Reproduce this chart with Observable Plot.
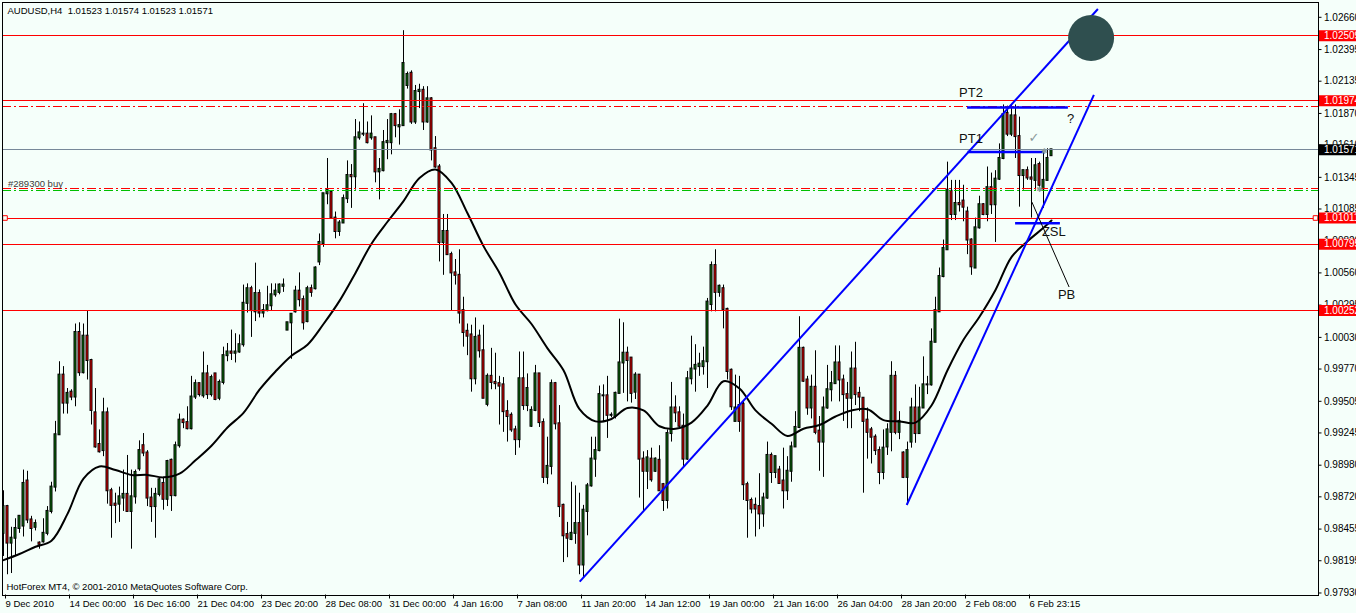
<!DOCTYPE html>
<html><head><meta charset="utf-8">
<script src="https://cdn.jsdelivr.net/npm/d3@7"></script>
<script src="https://cdn.jsdelivr.net/npm/@observablehq/plot@0.6"></script>
<style>
html,body{margin:0;padding:0;background:#F5FFFA;}
#chart svg{display:block}
</style></head><body><div id="chart"></div>
<script>
// ---- chart values (prices in pips, 1 pip = 0.0001) ----
const PIP = 1e-4;
const symbolName = "AUDUSD,H4";
const brokerCaption = "HotForex MT4, \u00A9 2001-2010 MetaQuotes Software Corp.";
const orderLabel = "#289300 buy";

const xTickBars = [0,16,32,48,64,80,96,112,128,144,160,176,192,208,224,240,256];
const xTickLabels = ["9 Dec 2010","14 Dec 00:00","16 Dec 16:00","21 Dec 04:00","23 Dec 20:00","28 Dec 08:00","31 Dec 00:00","4 Jan 16:00","7 Jan 08:00","11 Jan 20:00","14 Jan 12:00","19 Jan 00:00","21 Jan 16:00","26 Jan 04:00","28 Jan 20:00","2 Feb 08:00","6 Feb 23:15"];
const yTickValues = [1.02660,1.02395,1.02135,1.01870,1.01610,1.01345,1.01085,1.00820,1.00560,1.00295,1.00030,0.99770,0.99505,0.99245,0.98980,0.98720,0.98455,0.98195,0.97930];

const openPips = [
9842,9864,9834,9838,9846,9848,9885,9853,9847,9834,
9835,9842,9860,9880,9923,9972,9949,9958,9954,10007,
9974,10004,9984,9941,9915,9910,9941,9877,9866,9866,
9871,9874,9860,9872,9895,9914,9908,9871,9864,9874,
9883,9870,9902,9873,9914,9935,9933,9928,9954,9965,
9955,9973,9956,9973,9953,9966,9988,9991,9990,9991,
9997,10031,10043,10024,10039,10023,10025,10029,10038,10040,
10045,10009,10015,10024,10041,10034,10016,10043,10043,10065,
10080,10121,10122,10101,10090,10097,10117,10136,10135,10167,
10170,10170,10167,10167,10139,10140,10163,10163,10186,10176,
10177,10210,10220,10180,10205,10206,10180,10199,10158,10143,
10081,10090,10071,10056,10054,10025,10008,10005,9969,10004,
9992,9948,9971,9966,9965,9964,9942,9939,9927,9919,
9969,9947,9930,9943,9973,9933,9888,9897,9965,9932,
9865,9841,9837,9842,9850,9816,9860,9881,9903,9910,
9955,9955,9939,9938,9957,9982,9990,9986,9958,9972,
9903,9893,9903,9893,9902,9882,9869,9924,9945,9941,
9930,9903,9969,9977,9979,9979,9983,10030,10062,10040,
10043,10026,9976,9934,9947,9948,9882,9869,9865,9864,
9858,9871,9906,9892,9894,9885,9877,9893,9913,9929,
9994,9968,9945,9962,9926,9917,9945,9960,9965,9982,
9968,9956,9953,9977,9957,9953,9935,9927,9921,9910,
9892,9913,9925,9971,9925,9908,9888,9917,9945,9924,
9945,9964,9964,9999,10024,10053,10075,10123,10104,10113,
10115,10106,10083,10060,10093,10112,10104,10126,10112,10133,
10150,10187,10170,10185,10168,10136,10140,10134,10132,10145,
10125,10132,10152.3];
const highPips = [
9877,9865,9847,9854,9856,9894,9893,9856,9853,9835,
9854,9864,9884,9934,9983,9979,9961,9960,10014,10015,
10014,10025,9985,9961,9927,9953,9945,9879,9875,9880,
9894,9906,9894,9894,9918,9924,9910,9879,9879,9887,
9888,9902,9903,9917,9940,9936,9946,9971,9968,9965,
9991,9980,9972,9973,9968,9995,9998,10009,10006,10005,
10046,10047,10045,10064,10042,10030,10045,10047,10047,10047,
10051,10015,10022,10045,10056,10037,10045,10046,10061,10088,
10121,10150,10123,10106,10099,10120,10148,10145,10182,10180,
10195,10180,10185,10167,10150,10173,10182,10187,10187,10190,
10255,10221,10222,10210,10211,10209,10209,10200,10168,10145,
10104,10104,10073,10067,10075,10036,10014,10013,10019,10009,
10013,9973,9994,9990,9971,9970,9951,9941,9930,9991,
9991,9973,9946,9980,9973,9936,9921,9968,9966,9947,
9866,9851,9884,9881,9875,9865,9883,9921,9921,9963,
9964,9971,9941,9958,10018,10015,9995,9986,9974,9972,
9909,9910,9912,9904,9914,9883,9927,9966,9955,9946,
9940,9975,10004,9997,9990,9995,10035,10065,10075,10046,
10046,10027,9977,9972,9971,9950,9884,9871,9871,9891,
9875,9917,9908,9905,9897,9912,9905,9917,9942,10020,
9995,9971,9972,9992,9938,9954,9980,9975,9996,9996,
9972,9966,9991,9999,9962,9953,9945,9929,9923,9913,
9927,9932,9983,9975,9942,9909,9917,9953,9964,9962,
9987,9971,10010,10036,10060,10083,10147,10132,10132,10132,
10128,10110,10084,10101,10119,10113,10143,10138,10140,10162,
10194,10193,10194,10194,10184,10140,10143,10150,10150,10147,
10156,10158,10157.4];
const lowPips = [
9823,9808,9809,9823,9842,9839,9850,9835,9844,9829,
9834,9840,9858,9876,9923,9940,9940,9951,9946,9971,
9973,9968,9931,9912,9908,9905,9866,9838,9850,9851,
9860,9860,9829,9866,9893,9905,9864,9851,9838,9872,
9861,9864,9860,9872,9912,9928,9927,9927,9952,9954,
9953,9952,9954,9951,9951,9964,9983,9984,9982,9990,
9995,10023,10003,10016,10019,10019,10024,10025,10036,10038,
10040,10009,9985,10023,10028,10009,10015,10036,10042,10062,
10077,10112,10100,10084,10086,10097,10113,10109,10124,10165,
10168,10162,10165,10130,10116,10139,10149,10153,10167,10161,
10177,10207,10178,10178,10191,10173,10179,10148,10142,10065,
10054,10071,10025,10046,10014,9995,9988,9958,9964,9986,
9953,9946,9960,9960,9931,9925,9917,9925,9906,9912,
9943,9942,9929,9942,9929,9883,9882,9890,9927,9855,
9818,9822,9836,9833,9808,9805,9840,9880,9888,9909,
9933,9920,9937,9936,9957,9957,9950,9949,9952,9871,
9860,9878,9884,9892,9877,9860,9862,9917,9933,9928,
9897,9902,9964,9958,9971,9972,9961,10024,10024,10036,
10010,9968,9943,9934,9925,9869,9838,9858,9839,9845,
9847,9870,9883,9887,9883,9862,9869,9884,9913,9928,
9966,9939,9936,9923,9893,9888,9944,9950,9965,9950,
9934,9928,9928,9947,9942,9875,9903,9899,9906,9882,
9886,9906,9909,9923,9919,9887,9865,9912,9916,9924,
9945,9956,9963,9999,10024,10052,10075,10099,10099,10106,
10098,10071,10054,10060,10092,10103,10098,10104,10081,10132,
10149,10168,10168,10150,10110,10124,10132,10101,10124,10124,
10109,10132,10152.3];
const closePips = [
9864,9834,9838,9846,9856,9883,9853,9846,9850,9833,
9842,9860,9880,9923,9972,9949,9957,9954,10007,9974,
10004,9984,9943,9913,9909,9941,9877,9865,9865,9872,
9874,9860,9872,9892,9910,9908,9871,9864,9874,9886,
9870,9901,9873,9914,9935,9933,9928,9954,9965,9956,
9973,9956,9970,9952,9966,9988,9991,9990,9991,9997,
10031,10043,10025,10039,10023,10025,10029,10038,10041,10046,
10046,10015,10022,10041,10034,10015,10043,10040,10060,10081,
10121,10124,10101,10090,10097,10117,10136,10135,10167,10171,
10170,10163,10170,10139,10141,10163,10164,10186,10177,10177,
10228,10219,10180,10205,10206,10180,10199,10157,10143,10081,
10090,10071,10056,10054,10023,10007,10004,9969,10003,9992,
9953,9971,9966,9965,9963,9942,9938,9927,9919,9969,
9947,9961,9943,9973,9933,9888,9897,9965,9932,9864,
9840,9838,9842,9850,9816,9861,9881,9903,9910,9956,
9955,9939,9939,9957,9982,9990,9984,9957,9972,9903,
9893,9904,9886,9903,9877,9869,9924,9945,9941,9930,
9903,9969,9977,9980,9981,9983,10032,10062,10040,10045,
10026,9975,9946,9945,9934,9882,9869,9862,9862,9858,
9871,9906,9892,9905,9883,9877,9893,9913,9929,9994,
9967,9945,9962,9925,9917,9945,9960,9965,9982,9968,
9956,9953,9977,9956,9954,9934,9925,9921,9910,9892,
9912,9927,9971,9925,9934,9888,9910,9945,9924,9945,
9964,9964,9999,10025,10053,10076,10124,10104,10113,10112,
10110,10083,10061,10093,10112,10104,10126,10112,10133,10150,
10186,10170,10185,10168,10136,10140,10134,10133,10144,10128,
10132,10150,10157.1];

// moving average every 4 bars
const maBars = [0,4,8,12,16,20,24,28,32,36,40,44,48,52,56,60,64,68,72,76,80,84,88,92,96,100,104,108,112,116,120,124,128,132,136,140,144,148,152,156,160,164,168,172,176,180,184,188,192,196,200,204,208,212,216,220,224,228,232,236,240,244,248,252,256,260,262];
const maPips = [9820,9825,9831,9836,9858,9887,9897,9894,9890,9890,9888,9891,9902,9914,9929,9941,9960,9975,9988,9997,10014,10033,10056,10080,10098,10115,10134,10141,10130,10105,10078,10056,10030,10014,9994,9976,9944,9934,9936,9945,9943,9930,9928,9933,9947,9967,9961,9943,9932,9922,9928,9931,9938,9943,9944,9935,9934,9933,9947,9976,10001,10020,10042,10069,10082,10093,10099];

// horizontal price levels
const levelPrices = [1.02509, 1.01974, 1.01571, 1.01011, 1.00795, 1.00252];
const levelIsBid  = [false, false, true, false, false, false];
const orderPrices = [1.01931, 1.01255, 1.01239];
const orderIsOpen = [false, false, true];

// drawn objects (bar index, price)
const trendBars1 = [144.05, 273.6], trendPrices1 = [0.98023, 1.02728];
const trendBars2 = [225.8, 272.6],  trendPrices2 = [0.98653, 1.02022];
const hLineNames = ["PT2", "PT1", "ZSL"];
const hLineFrom = [240.9, 241, 252.9];
const hLineTo   = [266.1, 260, 264.1];
const hLinePrice = [1.01919, 1.01553, 1.00967];
const pbBars = [257.1, 266.4], pbPrices = [1.01142, 1.00444];
const targetBar = 271.9, targetPrice = 1.0249;
const noteTexts = ["PT2", "PT1", "?", "ZSL", "PB"];
const noteBars = [238.9, 238.9, 265.9, 259.6, 263.6];
const notePrices = [1.02038, 1.0166, 1.01824, 1.00896, 1.00378];
const checkBar = 257.6, checkPrice = 1.01668;
const arrowBars = [260.2, 259.0], arrowPrices = [1.01560, 1.01245];

// ---- build tables ----
const candles = openPips.map((o, i) => ({
  i, o: o * PIP, h: highPips[i] * PIP, l: lowPips[i] * PIP, c: closePips[i] * PIP
}));
const ma = maBars.map((b, k) => ({b, p: maPips[k] * PIP}));
const levels = levelPrices.map((p, k) => ({p, bid: levelIsBid[k]}));
const orders = orderPrices.map((p, k) => ({p, open: orderIsOpen[k]}));
const trends = [
  {x1: trendBars1[0], x2: trendBars1[1], y1: trendPrices1[0], y2: trendPrices1[1]},
  {x1: trendBars2[0], x2: trendBars2[1], y1: trendPrices2[0], y2: trendPrices2[1]}
];
const hLines = hLineNames.map((n, k) => ({n, x1: hLineFrom[k], x2: hLineTo[k], y: hLinePrice[k]}));
const notes = noteTexts.map((t, k) => ({t, x: noteBars[k], y: notePrices[k]}));
const last = candles[candles.length - 1];
const f5 = d3.format(".5f");
const header = `${symbolName}  ${f5(last.o)} ${f5(last.h)} ${f5(last.l)} ${f5(last.c)}`;

const BG = "#F5FFFA";
const FONT = "'Liberation Sans', Arial, sans-serif";
const BOX_X1 = 329, BOX_X2 = 340;

const chart = Plot.plot({
  width: 1356, height: 613,
  marginLeft: 2, marginRight: 38.5, marginTop: 2, marginBottom: 18.5,
  style: {background: BG, fontFamily: FONT, fontSize: "10px", color: "black", overflow: "hidden"},
  x: {type: "linear", domain: [-0.25, 328.625], axis: null},
  y: {type: "linear", domain: [0.979135, 1.027816], axis: null},
  color: {type: "identity"},
  marks: [
    // candles
    Plot.ruleX(candles, {x: "i", y1: "l", y2: "h", stroke: "black", strokeWidth: 1, clip: true}),
    Plot.rect(candles, {
      x1: d => d.i - 0.25, x2: d => d.i + 0.25,
      y1: d => Math.min(d.o, d.c), y2: d => Math.max(d.o, d.c),
      fill: d => d.c >= d.o ? "#0a7a0a" : "#ff0000",
      stroke: "black", strokeWidth: 1, insetTop: -0.5, insetBottom: -0.5, clip: true
    }),
    // moving average
    Plot.line(ma, {x: "b", y: "p", stroke: "black", strokeWidth: 2, curve: "catmull-rom", clip: true}),
    // horizontal levels
    Plot.ruleY(levels, {y: "p", stroke: d => d.bid ? "#778899" : "#ff0000", strokeWidth: 1, shapeRendering: "crispEdges"}),
    Plot.ruleY(orders, {y: "p", stroke: d => d.open ? "#00c000" : "#ff0000", strokeWidth: 1, strokeDasharray: "9,3,2,3", shapeRendering: "crispEdges"}),
    Plot.dot(levels.filter(d => d.p === 1.01011), {y: "p", frameAnchor: "left", dx: 2.5, symbol: "square", r: 2.6, stroke: "#ff0000", fill: BG, strokeWidth: 1}),
    Plot.dot(levels.filter(d => d.p === 1.01011), {y: "p", frameAnchor: "right", dx: -2.5, symbol: "square", r: 2.6, stroke: "#ff0000", fill: BG, strokeWidth: 1}),
    // trend lines and segments
    Plot.link(trends, {x1: "x1", y1: "y1", x2: "x2", y2: "y2", stroke: "#0000ff", strokeWidth: 2}),
    Plot.link(hLines, {x1: "x1", x2: "x2", y1: "y", y2: "y", stroke: "#0000ff", strokeWidth: 2.5}),
    Plot.link([{x1: pbBars[0], x2: pbBars[1], y1: pbPrices[0], y2: pbPrices[1]}], {x1: "x1", y1: "y1", x2: "x2", y2: "y2", stroke: "black", strokeWidth: 1}),
    Plot.dot([{x: targetBar, y: targetPrice}], {x: "x", y: "y", r: 23, fill: "#2f4f4f", stroke: "none"}),
    // annotations
    Plot.text(notes, {x: "x", y: "y", text: "t", textAnchor: "start", fontSize: 13, fill: "#111", fontFamily: FONT}),
    Plot.text([{x: checkBar, y: checkPrice}], {x: "x", y: "y", text: () => "\u2713", fontSize: 13, fill: "#8a9a9a", fontFamily: "'DejaVu Sans', sans-serif"}),
    Plot.text(arrowBars.map((b, k) => ({x: b, y: arrowPrices[k]})), {x: "x", y: "y", text: () => "\u2731", fontSize: 8, fill: "#8c9c9c", fontFamily: "'DejaVu Sans', sans-serif"}),
    Plot.text([orderLabel], {text: d => d, frameAnchor: "left", y: () => orderPrices[1], dx: 5.5, dy: -1, lineAnchor: "bottom", textAnchor: "start", fontSize: 9.5, fill: "#3c3c3c"}),
    Plot.text([header], {text: d => d, frameAnchor: "top-left", dx: 5, dy: 8, textAnchor: "start", lineAnchor: "middle", fontSize: 9.5, fill: "black"}),
    Plot.text([brokerCaption], {text: d => d, frameAnchor: "bottom-left", dx: 4, dy: -8, textAnchor: "start", lineAnchor: "middle", fontSize: 9.5, fill: "black"}),
    // axes
    Plot.axisY(yTickValues, {anchor: "right", tickSize: 3, tickPadding: 3, tickFormat: f5, fontSize: 10, label: null, textAnchor: "start"}),
    Plot.axisX(xTickBars, {anchor: "bottom", tickSize: 4, tickPadding: 1, tickFormat: d => xTickLabels[xTickBars.indexOf(d)], textAnchor: "start", dx: 2, fontSize: 9.5, label: null}),
    // price label boxes on the right scale
    Plot.ruleY(levels, {y: "p", x1: () => BOX_X1, x2: () => BOX_X2, stroke: d => d.bid ? "#000000" : "#ff0000", strokeWidth: 11}),
    Plot.text(levels, {y: "p", x: () => BOX_X1, text: d => f5(d.p), dx: 4.5, textAnchor: "start", fill: "white", fontSize: 10}),
    Plot.frame({stroke: "black", strokeWidth: 1, shapeRendering: "crispEdges"})
  ]
});
document.getElementById("chart").appendChild(chart);
</script></body></html>
